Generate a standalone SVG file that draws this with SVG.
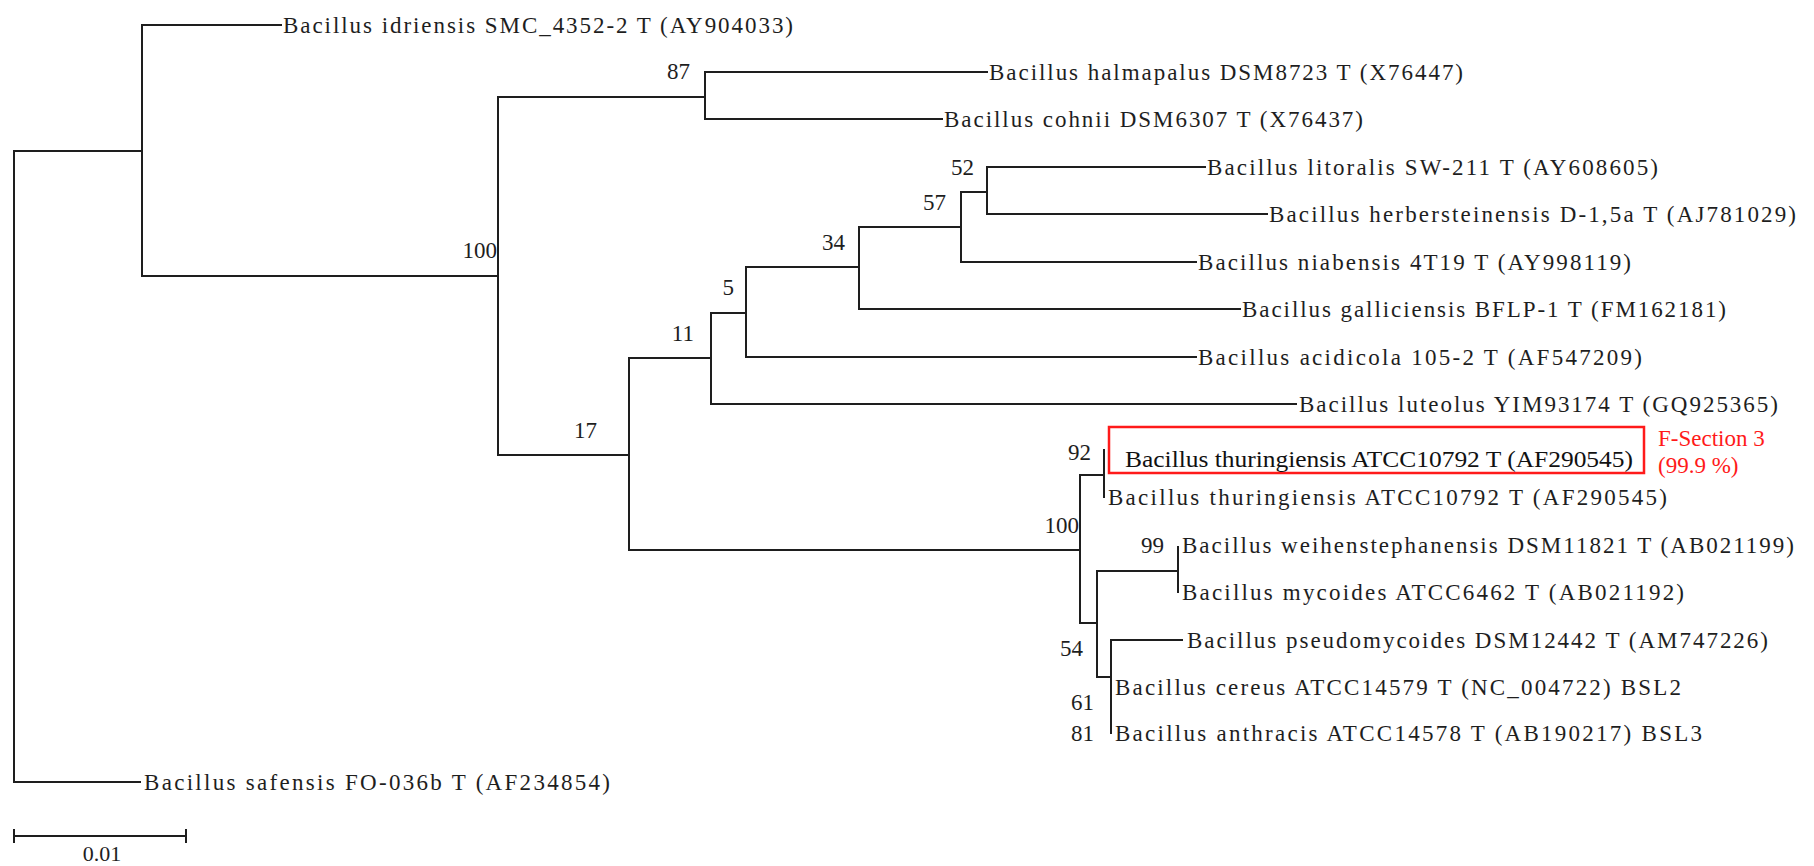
<svg xmlns="http://www.w3.org/2000/svg" width="1814" height="866" viewBox="0 0 1814 866">
<style>
.e{stroke:#1e1e1e;stroke-width:2;fill:none;stroke-linecap:square}
.t{font-family:"Liberation Serif","Times New Roman",serif;font-size:23px;fill:#1e1e1e}
.n{font-family:"Liberation Serif","Times New Roman",serif;font-size:23px;fill:#1e1e1e;text-anchor:end}
.r{font-family:"Liberation Serif","Times New Roman",serif;font-size:23px;fill:#ff1a1a}
</style>
<rect width="1814" height="866" fill="#ffffff"/>
<g id="connectors" class="e">
<path d="M14,151V782M14,151H142M142,25V276M142,25H281M142,276H498"/>
<path d="M498,97V455M498,97H705M705,72V119M705,72H987M705,119H942"/>
<path d="M498,455H629M629,358V550M629,358H711M711,313V404M711,313H746M711,404H1296"/>
<path d="M746,267V357M746,267H859M746,357H1196M859,227V309M859,227H961M859,309H1240"/>
<path d="M961,192V262M961,192H987M961,262H1196M987,167V214M987,167H1205M987,214H1267"/>
<path d="M629,550H1080M1080,475V623M1080,475H1104M1104,450V497"/>
<path d="M1080,623H1097M1097,571V677M1097,571H1178M1178,547V592"/>
<path d="M1097,677H1111M1111,640V733M1111,640H1182"/>
<path d="M14,782H140"/>
</g>
<g id="support">
<text class="n" x="690" y="79">87</text>
<text class="n" x="497" y="258">100</text>
<text class="n" x="974" y="175">52</text>
<text class="n" x="946" y="210">57</text>
<text class="n" x="845" y="250">34</text>
<text class="n" x="734" y="295">5</text>
<text class="n" x="694" y="341">11</text>
<text class="n" x="597" y="438">17</text>
<text class="n" x="1091" y="460">92</text>
<text class="n" x="1079" y="533">100</text>
<text class="n" x="1164" y="553">99</text>
<text class="n" x="1083" y="656">54</text>
<text class="n" x="1094" y="710">61</text>
<text class="n" x="1094" y="741">81</text>
</g>
<g id="idriensis"><text class="t" x="283" y="33" textLength="510" lengthAdjust="spacing">Bacillus idriensis SMC_4352-2 T (AY904033)</text></g>
<g id="halmapalus"><text class="t" x="989" y="80" textLength="474" lengthAdjust="spacing">Bacillus halmapalus DSM8723 T (X76447)</text></g>
<g id="cohnii"><text class="t" x="944" y="127" textLength="419" lengthAdjust="spacing">Bacillus cohnii DSM6307 T (X76437)</text></g>
<g id="litoralis"><text class="t" x="1207" y="175" textLength="451" lengthAdjust="spacing">Bacillus litoralis SW-211 T (AY608605)</text></g>
<g id="herbersteinensis"><text class="t" x="1269" y="222" textLength="527" lengthAdjust="spacing">Bacillus herbersteinensis D-1,5a T (AJ781029)</text></g>
<g id="niabensis"><text class="t" x="1198" y="270" textLength="433" lengthAdjust="spacing">Bacillus niabensis 4T19 T (AY998119)</text></g>
<g id="galliciensis"><text class="t" x="1242" y="317" textLength="484" lengthAdjust="spacing">Bacillus galliciensis BFLP-1 T (FM162181)</text></g>
<g id="acidicola"><text class="t" x="1198" y="365" textLength="444" lengthAdjust="spacing">Bacillus acidicola 105-2 T (AF547209)</text></g>
<g id="luteolus"><text class="t" x="1299" y="412" textLength="479" lengthAdjust="spacing">Bacillus luteolus YIM93174 T (GQ925365)</text></g>
<g id="thuringiensis-query">
<rect x="1109" y="427" width="535" height="46" fill="none" stroke="#ff1a1a" stroke-width="2.5"/>
<text x="1125" y="467" font-family="Liberation Serif, serif" font-size="24" fill="#111" textLength="508" lengthAdjust="spacingAndGlyphs">Bacillus thuringiensis ATCC10792 T (AF290545)</text>
<text class="r" x="1658" y="446">F-Section 3</text>
<text class="r" x="1658" y="473">(99.9 %)</text>
</g>
<g id="thuringiensis"><text class="t" x="1108" y="505" textLength="559" lengthAdjust="spacing">Bacillus thuringiensis ATCC10792 T (AF290545)</text></g>
<g id="weihenstephanensis"><text class="t" x="1182" y="553" textLength="612" lengthAdjust="spacing">Bacillus weihenstephanensis DSM11821 T (AB021199)</text></g>
<g id="mycoides"><text class="t" x="1182" y="600" textLength="502" lengthAdjust="spacing">Bacillus mycoides ATCC6462 T (AB021192)</text></g>
<g id="pseudomycoides"><text class="t" x="1187" y="648" textLength="581" lengthAdjust="spacing">Bacillus pseudomycoides DSM12442 T (AM747226)</text></g>
<g id="cereus"><text class="t" x="1115" y="695" textLength="566" lengthAdjust="spacing">Bacillus cereus ATCC14579 T (NC_004722) BSL2</text></g>
<g id="anthracis"><text class="t" x="1115" y="741" textLength="587" lengthAdjust="spacing">Bacillus anthracis ATCC14578 T (AB190217) BSL3</text></g>
<g id="safensis"><text class="t" x="144" y="790" textLength="466" lengthAdjust="spacing">Bacillus safensis FO-036b T (AF234854)</text></g>
<g id="scale">
<path class="e" d="M14,836H186M14,830V842M186,830V842"/>
<text x="102" y="861" font-family="Liberation Serif, serif" font-size="22" fill="#1e1e1e" text-anchor="middle">0.01</text>
</g>
</svg>
